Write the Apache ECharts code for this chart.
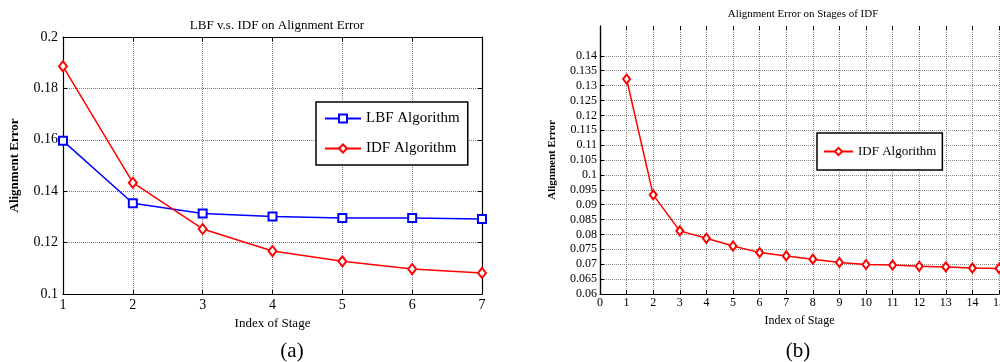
<!DOCTYPE html>
<html>
<head>
<meta charset="utf-8">
<script src="https://cdn.jsdelivr.net/npm/echarts@6/dist/echarts.min.js"></script>
<style>
    html, body { margin: 0; padding: 0; background: #fff; }
    #main { width: 1000px; height: 362px; }
</style>
</head>
<body>
<div id="main"></div>
<script>
// (a) LBF vs IDF
const stagesA = [1, 2, 3, 4, 5, 6, 7];
const lbfError = [0.1596, 0.1353, 0.1313, 0.1302, 0.1296, 0.1296, 0.1292];
const idfError = [0.1886, 0.1433, 0.1253, 0.1167, 0.1127, 0.1097, 0.1082];

// (b) IDF over stages
const stagesB = [1, 2, 3, 4, 5, 6, 7, 8, 9, 10, 11, 12, 13, 14, 15];
const idfStageError = [0.1322, 0.0933, 0.0812, 0.0787, 0.0761, 0.0739, 0.0728, 0.0717,
    0.0706, 0.0699, 0.0697, 0.0693, 0.0691, 0.0687, 0.0686];

const serif = 'Liberation Serif';

function pairs(xs, ys) {
    return xs.map(function (x, i) { return [x, ys[i]]; });
}

let chart = echarts.init(document.getElementById('main'));

const gridLine = { show: true, lineStyle: { color: '#777', type: 'dotted', width: 1 } };
const denseLine = { show: true, lineStyle: { color: '#888', type: 'dotted', width: 1 } };
const blackLine = { show: true, lineStyle: { color: '#000', width: 1.2 } };
const inTick = { show: true, inside: true, length: 4, lineStyle: { color: '#000' } };

option = {
    animation: false,
    backgroundColor: '#fff',
    title: [
        {
            text: 'LBF v.s. IDF on Alignment Error',
            left: 272, top: 14, textAlign: 'center',
            textStyle: { fontFamily: serif, fontWeight: 'normal', fontSize: 13, color: '#000' }
        },
        {
            text: 'Alignment Error on Stages of IDF',
            left: 798, top: 4, textAlign: 'center',
            textStyle: { fontFamily: serif, fontWeight: 'normal', fontSize: 11, color: '#000' }
        },
        {
            text: '(a)',
            left: 287, top: 336, textAlign: 'center',
            textStyle: { fontFamily: serif, fontWeight: 'normal', fontSize: 21, color: '#000' }
        },
        {
            text: '(b)',
            left: 793, top: 336, textAlign: 'center',
            textStyle: { fontFamily: serif, fontWeight: 'normal', fontSize: 21, color: '#000' }
        }
    ],
    legend: [
        {
            data: ['LBF Algorithm', 'IDF Algorithm'],
            orient: 'vertical',
            left: 316, top: 102,
            padding: [9, 8],
            itemGap: 15,
            itemWidth: 36,
            itemHeight: 10,
            backgroundColor: '#fff',
            borderColor: '#000',
            borderWidth: 1.5,
            textStyle: { fontFamily: serif, fontSize: 15, color: '#000' }
        },
        {
            data: ['IDF Stages'],
            formatter: function () { return 'IDF Algorithm'; },
            left: 817, top: 133,
            padding: [12, 6],
            itemWidth: 29,
            itemHeight: 9,
            backgroundColor: '#fff',
            borderColor: '#000',
            borderWidth: 1.5,
            textStyle: { fontFamily: serif, fontSize: 13, color: '#000' }
        }
    ],
    grid: [
        { left: 63, right: 518, top: 37, bottom: 68, outerBoundsMode: 'none' },
        { left: 600, right: 1, top: 26, bottom: 68, outerBoundsMode: 'none' },
        { left: 600, right: 1, top: 55.8, bottom: 68, outerBoundsMode: 'none' }
    ],
    xAxis: [
        {
            gridIndex: 0, type: 'value', min: 1, max: 7, interval: 1,
            name: 'Index of Stage', nameLocation: 'middle', nameGap: 22,
            nameTextStyle: { fontFamily: serif, fontSize: 13, color: '#000' },
            axisLine: blackLine, axisTick: inTick, splitLine: gridLine,
            axisLabel: { fontFamily: serif, fontSize: 14, color: '#000', margin: 4 }
        },
        {
            gridIndex: 0, type: 'value', position: 'top', min: 1, max: 7, interval: 1,
            axisLine: blackLine, axisTick: inTick, splitLine: { show: false },
            axisLabel: { show: false }
        },
        {
            gridIndex: 1, type: 'value', min: 0, max: 15, interval: 1,
            name: 'Index of Stage', nameLocation: 'middle', nameGap: 21,
            nameTextStyle: { fontFamily: serif, fontSize: 12, color: '#000' },
            axisLine: blackLine, axisTick: inTick, splitLine: denseLine,
            axisLabel: { fontFamily: serif, fontSize: 12, color: '#000', margin: 3 }
        },
        {
            gridIndex: 1, type: 'value', position: 'top', min: 0, max: 15, interval: 1,
            axisLine: { show: false }, axisTick: inTick, splitLine: { show: false },
            axisLabel: { show: false }
        },
        {
            gridIndex: 2, type: 'value', min: 0, max: 15, show: false
        }
    ],
    yAxis: [
        {
            gridIndex: 0, type: 'value', min: 0.1, max: 0.2, interval: 0.02,
            name: 'Alignment Error', nameLocation: 'middle', nameGap: 42,
            nameTextStyle: { fontFamily: serif, fontSize: 13, fontWeight: 'bold', color: '#000' },
            axisLine: blackLine, axisTick: inTick, splitLine: gridLine,
            axisLabel: { fontFamily: serif, fontSize: 14, color: '#000', margin: 5 }
        },
        {
            gridIndex: 0, type: 'value', position: 'right', min: 0.1, max: 0.2, interval: 0.02,
            axisLine: blackLine, axisTick: inTick, splitLine: { show: false },
            axisLabel: { show: false }
        },
        {
            gridIndex: 1, type: 'value', min: 0.06, max: 0.15, interval: 0.005,
            name: 'Alignment Error', nameLocation: 'middle', nameGap: 42,
            nameTextStyle: { fontFamily: serif, fontSize: 11, fontWeight: 'bold', color: '#000' },
            axisLine: blackLine, axisTick: { show: false }, splitLine: { show: false },
            axisLabel: { show: false }
        },
        {
            gridIndex: 2, type: 'value', min: 0.06, max: 0.14, interval: 0.005,
            axisLine: { show: false }, axisTick: inTick, splitLine: denseLine,
            axisLabel: { fontFamily: serif, fontSize: 12, color: '#000', margin: 3 }
        },
        {
            gridIndex: 1, type: 'value', position: 'right', min: 0.06, max: 0.15,
            axisLine: blackLine, axisTick: { show: false }, splitLine: { show: false },
            axisLabel: { show: false }
        }
    ],
    series: [
        {
            name: 'LBF Algorithm',
            type: 'line',
            xAxisIndex: 0, yAxisIndex: 0,
            data: pairs(stagesA, lbfError),
            symbol: 'emptyRect',
            symbolSize: 8,
            color: '#0000ff',
            lineStyle: { width: 1.5 },
            itemStyle: { borderWidth: 1.5 }
        },
        {
            name: 'IDF Algorithm',
            type: 'line',
            xAxisIndex: 0, yAxisIndex: 0,
            data: pairs(stagesA, idfError),
            symbol: 'emptyDiamond',
            symbolSize: [8, 10],
            color: '#ff0000',
            lineStyle: { width: 1.5 },
            itemStyle: { borderWidth: 1.5 }
        },
        {
            name: 'IDF Stages',
            type: 'line',
            xAxisIndex: 2, yAxisIndex: 2,
            data: pairs(stagesB, idfStageError),
            symbol: 'emptyDiamond',
            symbolSize: [7, 9],
            color: '#ff0000',
            lineStyle: { width: 1.5 },
            itemStyle: { borderWidth: 1.5 }
        }
    ]
};

chart.setOption(option);
</script>
</body>
</html>
